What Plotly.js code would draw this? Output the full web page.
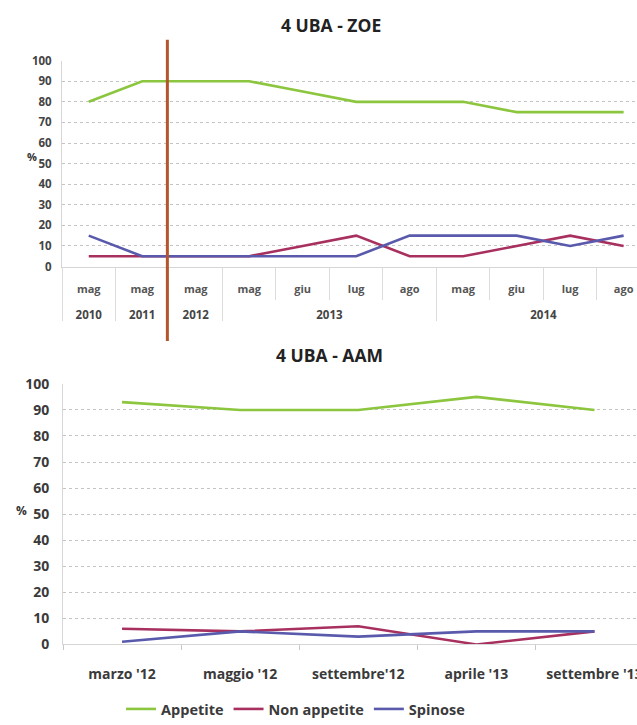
<!DOCTYPE html>
<html>
<head>
<meta charset="utf-8">
<script src="https://cdn.plot.ly/plotly-3.0.1.min.js"></script>
<style>
  html, body { margin: 0; padding: 0; background: #fff; }
  #chart { width: 637px; height: 725px; }
</style>
</head>
<body>
<div id="chart"></div>
<script>
// ---- 4 UBA - ZOE : survey dates (year / month) ----
const zoeYears  = ["2010", "2011", "2012", "2013", "2013", "2013", "2013", "2014", "2014", "2014", "2014"];
const zoeMonths = ["mag", "mag", "mag", "mag", "giu", "lug", "ago", "mag", "giu", "lug", "ago"];
const zoeAppetite    = [80, 90, 90, 90, 85, 80, 80, 80, 75, 75, 75];
const zoeNonAppetite = [5, 5, 5, 5, 10, 15, 5, 5, 10, 15, 10];
const zoeSpinose     = [15, 5, 5, 5, 5, 5, 15, 15, 15, 10, 15];

// ---- 4 UBA - AAM : survey dates ----
const aamDates = ["marzo '12", "maggio '12", "settembre'12", "aprile '13", "settembre '13"];
const aamAppetite    = [93, 90, 90, 95, 90];
const aamNonAppetite = [6, 5, 7, 0, 5];
const aamSpinose     = [1, 5, 3, 5, 5];

const seriesNames = ["Appetite", "Non appetite", "Spinose"];
const yTicks = [0, 10, 20, 30, 40, 50, 60, 70, 80, 90, 100];

// marker between the 2011 and 2012 surveys (survey index units)
const interventionPos = 1.47;

const colors = ["#8cc63f", "#a8305f", "#5a5aad"];
const FONT = "Open Sans, Liberation Sans, sans-serif";

// survey slots along the ZOE axis, their boundaries, and the year groups
const zoeSlots = zoeMonths.map((_, i) => i);
const slotEdges = zoeMonths.map((_, i) => i - 0.5).concat([zoeMonths.length - 0.5]);
const yearGroups = [];
zoeYears.forEach((yr, i) => {
  const last = yearGroups[yearGroups.length - 1];
  if (last && last.year === yr) last.end = i;
  else yearGroups.push({ year: yr, start: i, end: i });
});
const yearCenters = yearGroups.map(g => (g.start + g.end) / 2);
const yearLabels = yearGroups.map(g => g.year);
const yearEdges = [yearGroups[0].start - 0.5].concat(yearGroups.map(g => g.end + 0.5));

function line(x, y, i, xa, ya, legend) {
  return {
    type: "scatter", mode: "lines", x: x, y: y, name: seriesNames[i],
    xaxis: xa, yaxis: ya, showlegend: legend,
    line: { color: colors[i], width: 2.6 },
    hoverinfo: "skip"
  };
}

const data = [
  line(zoeSlots, zoeAppetite, 0, "x", "y", false),
  line(zoeSlots, zoeNonAppetite, 1, "x", "y", false),
  line(zoeSlots, zoeSpinose, 2, "x", "y", false),
  line(aamDates, aamAppetite, 0, "x2", "y2", true),
  line(aamDates, aamNonAppetite, 1, "x2", "y2", true),
  line(aamDates, aamSpinose, 2, "x2", "y2", true),
  // carries the year row of the ZOE axis
  { type: "scatter", mode: "none", x: yearCenters, y: yearCenters.map(() => 0),
    xaxis: "x3", yaxis: "y", showlegend: false, hoverinfo: "skip" }
];

const H = 725, W = 637;
const zoeRange = [-0.5, 10.25];
const yAxisCommon = {
  range: [0, 100], tickvals: yTicks, ticktext: yTicks.map(String),
  showgrid: true, gridcolor: "#c4c4c4", griddash: "dot", gridwidth: 1,
  zeroline: false, showline: true, linecolor: "#d6d6d6", linewidth: 1,
  ticks: "", fixedrange: true
};

const layout = {
  width: W, height: H,
  margin: { l: 0, r: 0, t: 0, b: 0 },
  paper_bgcolor: "#ffffff", plot_bgcolor: "#ffffff",
  font: { family: FONT, color: "#333" },
  showlegend: true,
  legend: {
    orientation: "h", x: 0.19, xanchor: "left", y: 0.016, yanchor: "middle",
    font: { family: FONT, size: 14.5, weight: 700, color: "#3a3a3a" },
    itemwidth: 30, tracegroupgap: 0, bgcolor: "rgba(0,0,0,0)"
  },
  xaxis: {
    type: "linear", domain: [62 / W, 1], anchor: "y",
    range: zoeRange,
    showgrid: false, zeroline: false,
    showline: true, linecolor: "#d6d6d6",
    tickmode: "array", tickvals: zoeSlots, ticktext: zoeMonths, ticks: "",
    minor: { tickmode: "array", tickvals: slotEdges, ticks: "outside", ticklen: 32,
             tickcolor: "#dcdcdc", tickwidth: 1, showgrid: false },
    tickfont: { family: FONT, size: 11, weight: 700, color: "#555" },
    ticklabelstandoff: 12,
    fixedrange: true
  },
  xaxis3: {
    type: "linear", overlaying: "x", anchor: "free", position: 1 - 323 / H,
    side: "top", range: zoeRange,
    showgrid: false, zeroline: false, showline: false,
    tickmode: "array", tickvals: yearCenters, ticktext: yearLabels, ticks: "",
    minor: { tickmode: "array", tickvals: yearEdges, ticks: "outside", ticklen: 24,
             tickcolor: "#dcdcdc", tickwidth: 1, showgrid: false },
    tickfont: { family: FONT, size: 11.5, weight: 700, color: "#444" },
    ticklabelstandoff: 0,
    fixedrange: true
  },
  yaxis: Object.assign({}, yAxisCommon, {
    domain: [1 - 268 / H, 1 - 61 / H], anchor: "x",
    tickfont: { family: FONT, size: 11.5, weight: 700, color: "#444" },
    ticklabelstandoff: 7
  }),
  xaxis2: {
    type: "category", domain: [63 / W, 1], anchor: "y2",
    range: [-0.5, 4.36],
    showgrid: false, zeroline: false,
    showline: true, linecolor: "#d6d6d6",
    ticks: "outside", tickson: "boundaries", ticklen: 5, tickcolor: "#c8c8c8",
    tickfont: { family: FONT, size: 14, weight: 700, color: "#3a3a3a" },
    ticklabelstandoff: 17,
    fixedrange: true
  },
  yaxis2: Object.assign({}, yAxisCommon, {
    domain: [1 - 648 / H, 1 - 386 / H], anchor: "x2",
    tickfont: { family: FONT, size: 14, weight: 700, color: "#3a3a3a" },
    ticklabelstandoff: 10
  }),
  annotations: [
    { text: "4 UBA - ZOE", xref: "paper", yref: "paper", x: 331 / W, y: 1 - 25 / H,
      xanchor: "center", yanchor: "middle", showarrow: false,
      font: { family: FONT, size: 17.5, weight: 700, color: "#222" } },
    { text: "4 UBA - AAM", xref: "paper", yref: "paper", x: 329 / W, y: 1 - 357 / H,
      xanchor: "center", yanchor: "middle", showarrow: false,
      font: { family: FONT, size: 17.5, weight: 700, color: "#222" } },
    { text: "%", xref: "paper", yref: "paper", x: 32 / W, y: 1 - 157 / H,
      xanchor: "center", yanchor: "middle", showarrow: false,
      font: { family: FONT, size: 11, weight: 700, color: "#333" } },
    { text: "%", xref: "paper", yref: "paper", x: 21 / W, y: 1 - 513 / H,
      xanchor: "center", yanchor: "middle", showarrow: false,
      font: { family: FONT, size: 12, weight: 700, color: "#333" } }
  ],
  shapes: [
    { type: "line", xref: "x", yref: "paper",
      x0: interventionPos, x1: interventionPos,
      y0: 1 - 343 / H, y1: 1 - 40 / H,
      line: { color: "#b5552d", width: 3 } }
  ]
};

Plotly.newPlot("chart", data, layout, { staticPlot: true, displayModeBar: false });
</script>
</body>
</html>
